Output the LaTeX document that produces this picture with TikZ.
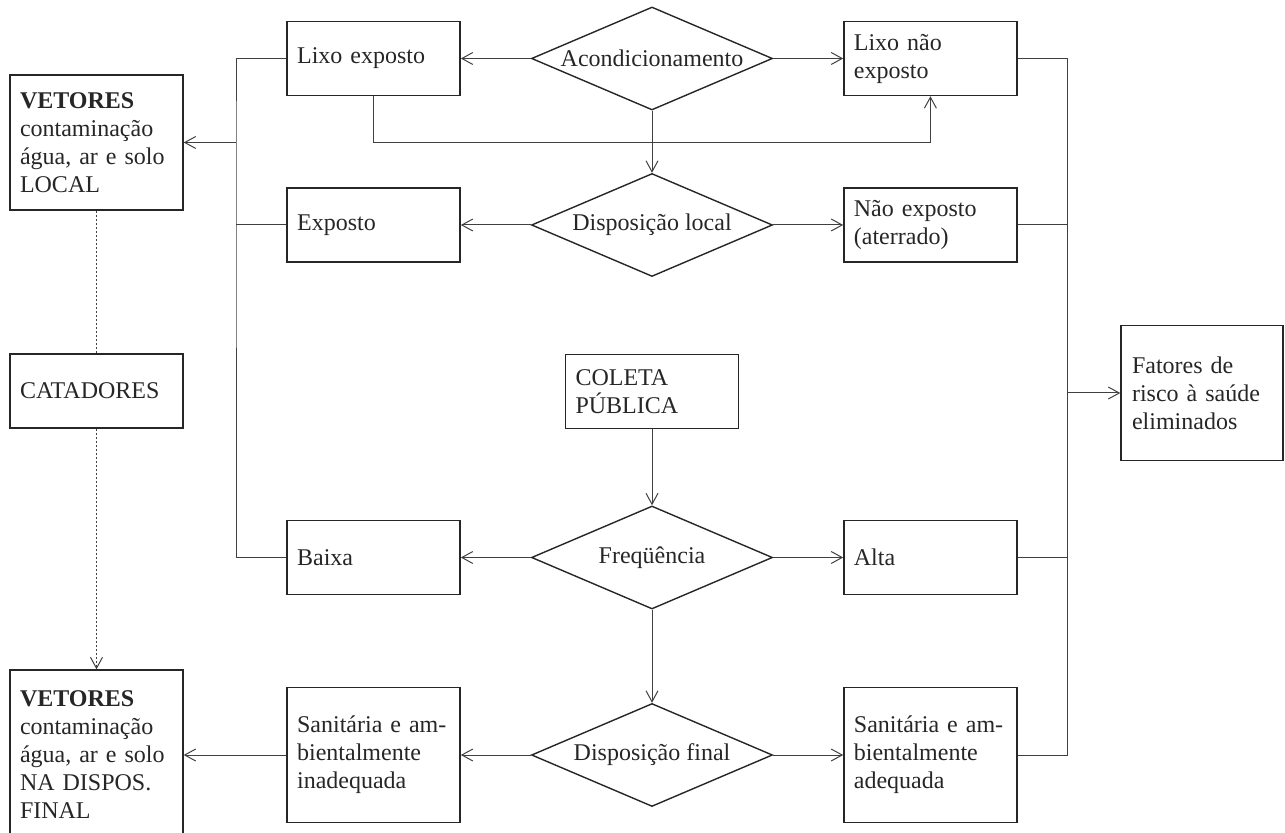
\documentclass[tikz,border=0pt]{standalone}
\usepackage{fontspec}
\setmainfont{Liberation Serif}
\usetikzlibrary{positioning,shapes.geometric,arrows.meta}
\tikzset{
		basic/.style  = {draw=black!85, line width=0.7pt, text=black!85,
			font=\fontsize{12}{14}\selectfont, inner sep=0pt},
		box/.style    = {basic, rectangle, align=left, text width=76.5pt,
			inner xsep=5pt, minimum width=86.5pt, minimum height=37pt},
		tall box/.style = {box, minimum height=67.5pt},
		decision/.style = {basic, diamond, aspect=2.34, align=center,
			minimum width=120.5pt, minimum height=51.5pt},
		link/.style   = {draw=black!75, line width=0.5pt}
	}
\begin{document}
\begin{tikzpicture}[x=0.5pt, y=-0.5pt, node distance=35pt,
		>={Straight Barb[length=5.5pt,width=6pt]}]
		\useasboundingbox (0,0) rectangle (1285,833);
		% middle column, the decisions
		\node[decision] (acond) at (652,58.5) {Acondicionamento};
		\node[decision] (displocal) at (652,225) {Disposição local};
		\node[box] (coleta) at (652,391.5) {COLETA\\PÚBLICA};
		\node[decision] (freq) at (652,557.5) {Freqüência};
		\node[decision] (dispfinal) at (652,755) {Disposição final};
		% outcomes on both sides
		\node[box, left = of acond] (lixoexp) {Lixo exposto};
		\node[box, right = of acond] (lixonao) {Lixo não\\exposto};
		\node[box, left = of displocal] (exposto) {Exposto};
		\node[box, right = of displocal] (naoexp) {Não exposto\\(aterrado)};
		\node[box, left = of freq] (baixa) {Baixa};
		\node[box, right = of freq] (alta) {Alta};
		\node[tall box, left = of dispfinal] (inadeq) {Sanitária e am-\\bientalmente\\inadequada};
		\node[tall box, right = of dispfinal] (adeq) {Sanitária e am-\\bientalmente\\adequada};
		% left column
		\node[tall box] (vetlocal) at (96.5,142.5) {\textbf{VETORES}\\contaminação\\água, ar e solo\\LOCAL};
		\node[box] (catadores) at (96.5,391) {CATADORES};
		\node[tall box, minimum height=85pt] (vetfinal) at (96.5,755) {\textbf{VETORES}\\contaminação\\água, ar e solo\\NA DISPOS.\\FINAL};
		% right end
		\node[tall box, text width=70pt, minimum width=81pt] (fatores) at (1202,393) {Fatores de\\risco à saúde\\eliminados};
		\coordinate (lbus) at (236,142.5);
		\coordinate (rbus) at (1067,393);
		% connectors
		\foreach \d/\l/\r in {acond/lixoexp/lixonao, displocal/exposto/naoexp,
			freq/baixa/alta, dispfinal/inadeq/adeq}{
			\draw[link,->] (\d.west) -- (\l.east);
			\draw[link,->] (\d.east) -- (\r.west);
		}
		\draw[link,->] (acond.south) -- (displocal.north);
		\draw[link,->] (coleta.south) -- (freq.north);
		\draw[link,->] (freq.south) -- (dispfinal.north);
		\draw[link,->] (lixoexp.south) -- ++(0,-23pt) -| (lixonao.south);
		\draw[link] (lixoexp.west) -| (lbus) |- (baixa.west);
		\draw[link] (exposto.west) -- (exposto.west -| lbus);
		\draw[link,->] (lbus) -- (vetlocal.east);
		\draw[link] (lixonao.east) -| (rbus) |- (adeq.east);
		\foreach \n in {naoexp,alta}
		\draw[link] (\n.east) -- (\n.east -| rbus);
		\draw[link,->] (rbus) -- (fatores.west);
		\draw[link,->] (inadeq.west) -- (vetfinal.east);
		\draw[link,dash pattern=on 1pt off 1pt] (vetlocal.south) -- (catadores.north);
		\draw[link,dash pattern=on 1pt off 1pt,->] (catadores.south) -- (vetfinal.north);
	\end{tikzpicture}
\end{document}
